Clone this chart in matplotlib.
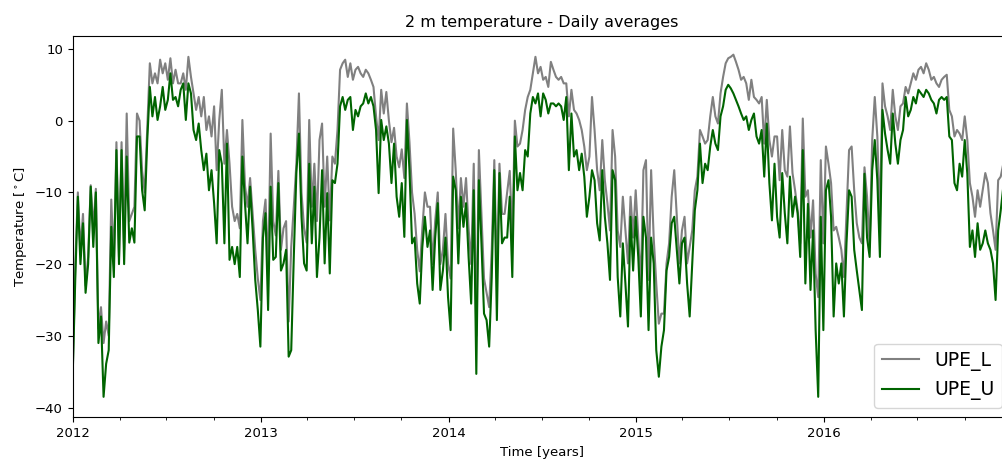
#!/usr/bin/env python3
import pandas as pd
import matplotlib
matplotlib.use('Agg')
import matplotlib.pyplot as plt
import matplotlib.dates as mdates

# 2 m temperature, values read every 5 days from 2012-01-01
start_date = '2012-01-01'
step = '5D'

upe_u = [
    # 2012
    -35.3, -22, -10.6, -20, -14.3, -24, -20, -9.2, -17.6, -10, -31, -27.3, -38.5, -33.9, -32, -14.8,
    -21.8, -4.1, -20, -4.1, -20, -5, -17, -15, -17, -2.2, -2.2, -9.7, -12.5, -2.7, 4.7, 0.6,
    3.3, 0.1, 2, 4.7, 1.5, 2.9, 6.6, 2.9, 3.3, 2, 4.3, 5.2, 0.1, 5.2, 3.8, -1.3,
    -2.7, -0.4, -4.1, -6.9, -4.6, -9.7, -6.9, -11.5, -17.1, -4.1, -6, -17.1, -3.2, -19.4,
    # 2012-11 .. 2013-08
    -17.6, -20, -17.6, -21.8, -5, -11.5, -17.1, -9.2, -15.3, -22.2, -26.4, -31.5, -16.3, -12.9, -26.4, -9.2,
    -19.4, -19, -8.7, -20.9, -19.9, -18, -32.9, -32, -19, -7.3, -1.8, -13.4, -19.9, -20.9, -6, -17.1,
    -9.2, -21.8, -16.3, -6.9, -19.9, -10.1, -21.3, -8.3, -8.7, -6, 2, 3.3, 1.5, 2.9, 3.3, -1.3,
    1.5, 0.6, 2, 2.4, 3.8, 2.4, 3.3, 2, -1.3, -10.1,
    # 2013-08 .. 2014-07
    0.1, -2.7, -0.8, -3.2, -8.7, -3.2, -10.6, -13.4, -8.7, -16.2, 0.1, -6.9, -17.1, -16.3, -22.7, -25.5,
    -17.6, -13.4, -17.6, -15.3, -23.6, -16.3, -11.5, -23.6, -20.9, -16.3, -24.6, -29.2, -7.8, -9.7, -19.9, -10.6,
    -14.8, -11.5, -19, -25.5, -9.7, -35.3, -8.3, -17.1, -26.9, -27.8, -31.5, -21.8, -6.9, -27.8, -7.3, -17.1,
    -16.3, -16.3, -10.6, -21.8, -2.2, -9.7, -7.3, -9.7, -4.1, -5, 1, 3.3, 2.4, 3.8, 0.6, 3.8,
    2.9, 1,
    # 2014-07 .. 2015-05
    2.4, 2.4, 2, 2.4, 2, 0.1, 3.3, -6.9, 1, -5, -4.1, -6.9, -4.6, -7.8, -13.4, -10.6,
    -6.9, -8.3, -14.3, -16.7, -6.9, -13.4, -17.1, -22.2, -6.9, -8.3, -21.8, -27.3, -17.1, -22.7, -28.7, -13.4,
    -20.9, -13.4, -19, -27.3, -13.4, -16.3, -29.2, -16.3, -19.9, -32, -35.7, -31.5, -29.2, -20.9, -19, -14.3,
    -13.4, -18, -22.7, -17.1, -16.3, -22.7, -27.3, -19.9, -12.5, -9.7, -3.2, -8.7, -6, -6.9,
    # 2015-05 .. 2016-03
    -3.6, -1.3, -3.2, -4.1, 0.6, 2, 4.3, 5, 4.5, 3.8, 2.9, 2, 1, 0.1, 0.6, -1.3,
    0.1, 1, -2.2, -3.2, -1.3, -7.8, -0.4, -8.7, -13.9, -6, -13.4, -16.3, -7.3, -12.9, -17.1, -7.8,
    -13.4, -10.6, -12.9, -19, -4.1, -22.7, -11.6, -23.6, -15.3, -29.2, -38.5, -13.4, -29.2, -9.7, -8.3, -13.4,
    -27.3, -19.9, -22.7, -19.9, -27.3, -17.1, -9.7, -10.6, -18, -20.9, -23.6, -26.4, -7.4, -16.3, -19,
    # 2016-04 .. 2016-12
    -6.9, -2.7, -8.3, -19, 1.5, -1.8, -4.1, -6, 1, -3.2, -6, -2.7, -1.3, 3.3, 0.6, 1.5,
    3.3, 2.4, 4.3, 3.8, 3.3, 4.3, 3.8, 2.9, 2.4, 1, 2.9, 3.3, 2.9, 3.3, -2.2, -2.7,
    -8.7, -9.7, -6, -7.8, -2.7, -7.4, -17.6, -15.3, -19, -14.3, -18, -17.1, -15.3, -17.1, -18, -19.9,
    -25, -15.3, -12.5, -9.2, -15.3, -18, -14,
]

upe_l = [
    # 2012
    -35, -20, -10, -18, -13, -23, -19, -9, -15, -9.5, -29, -26, -31, -28, -30, -11,
    -20, -3, -19, -3, -18, 1, -14, -13, -12, 1, 0, -7, -10, -1, 8, 5.2,
    6.6, 5.2, 8.5, 6.6, 8, 5.7, 8.7, 5.2, 7.1, 5.2, 5.2, 6.6, 4.3, 8.9, 6.1, 3.8,
    1.5, 3.3, 0.6, 3.3, -1.3, 0.6, -2.2, 2, -6.9, 0.1, 4.3, -6, -1.3, -6,
    # 2012-11 .. 2013-08
    -12, -14, -13, -15, 0.1, -9, -12, -8, -13, -18, -22, -25, -14, -11, -21, -1.8,
    -14, -16, -7, -18, -15, -14, -28, -17.6, -12, -6, 3.8, -10, -15, -17, 0.1, -12,
    -6, -14, -2.7, -0.4, -12, -5, -13.9, -5, -6, -1.3, 7.1, 8, 8.5, 6.1, 8, 5.7,
    7.1, 7.5, 6.6, 6.1, 7.1, 6.6, 5.7, 4.7, 0.6, -2.7,
    # 2013-08 .. 2014-07
    4.3, 1, 4, 0, -3, -1, -5, -6.5, -4, -8, 2.4, -3, -10, -13, -18, -21,
    -15, -10, -12, -12, -20, -14, -10, -20, -18, -13, -20, -22, -1.1, -7, -15, -8,
    -12, -8, -15, -20, -6, -30, -4.1, -13, -22, -24, -26, -18, -5.5, -22, -6, -13,
    -13, -10, -7, -16, 0, -3.6, -3.2, -1.3, 1.5, 3.3, 4.3, 6.6, 8.9, 6.6, 7.5, 5.7,
    6.1, 4.7,
    # 2014-07 .. 2015-05
    8.2, 7.1, 6.1, 5.7, 6.1, 5.2, 5.2, 0.6, 4.3, 1.5, 1, 0.1, -1.3, -3.6, -6.9, -5,
    3.3, -1.3, -6.9, -9.7, -2.7, -8.3, -11.5, -15.3, -1.3, -5, -15.3, -17.6, -10.6, -15.3, -19.9, -10.6,
    -16.3, -9.7, -16.3, -22.7, -6.9, -5.5, -22.2, -6.9, -16.3, -22.7, -28.3, -26.9, -26.9, -19.9, -17.1, -10.6,
    -6.9, -13.4, -19.9, -15.3, -13.4, -19.9, -17.6, -15.3, -9.7, -7.8, -1.3, -2.2, -3.2, -2.7,
    # 2015-05 .. 2016-03
    0.6, 3.3, 0.6, -0.4, 3.8, 6.1, 8, 8.7, 8.9, 9.2, 8.2, 7.1, 5.7, 6.1, 5.2, 2.9,
    5.7, 3.3, 2.9, 2.4, 3.3, -3.2, 2.9, -2.7, -5, -2.2, -2.2, -8.3, -1.3, -6.9, -7.8, -0.8,
    -7.3, -9.7, -12.5, -17.1, 0.3, -10.6, -9.7, -16.3, -11.1, -21.3, -24.6, -5.5, -17.1, -3.6, -6, -8.7,
    -15.3, -14.8, -16.3, -18, -21.8, -12.9, -4.1, -3.6, -9.7, -14.3, -16.3, -17.1, -6.5, -10.6, -17.6,
    # 2016-04 .. 2016-12
    -2.7, 3.3, -2.2, -14, 5.2, 2, 0.6, -1.3, 4.3, 0.6, -1.3, 2, 2.4, 4.7, 3.8, 5.2,
    6.6, 5.7, 7.1, 7.5, 6.6, 8, 7.1, 5.7, 6.1, 5.2, 4.7, 5.7, 6.1, 6.4, 1.5, 0.6,
    -2.2, -1.3, -1.8, -2.7, 0.6, -2.7, -8.7, -10.6, -13.4, -9.7, -12, -9.7, -7.3, -8.7, -12.9, -15.3,
    -18, -8.3, -7.8, -6, -10, -14, -10,
]


def plot_graph(df, graph_name):
    fig = plt.figure(figsize=(10.03, 4.62), dpi=100)
    ax = fig.add_axes([0.0725, 0.0968, 0.936, 0.826])

    ax.plot(df.index, df['UPE_L'], color='gray', lw=1.5, label='UPE_L')
    ax.plot(df.index, df['UPE_U'], color='darkgreen', lw=1.5, label='UPE_U')

    ax.set_xlim(pd.Timestamp('2012-01-01'), pd.Timestamp('2016-12-31'))
    ax.set_ylim(-41.35, 11.85)
    ax.set_yticks([-40, -30, -20, -10, 0, 10])

    # yearly labels, quarterly minor ticks
    ax.xaxis.set_major_locator(mdates.YearLocator())
    ax.xaxis.set_major_formatter(mdates.DateFormatter('%Y'))
    ax.xaxis.set_minor_locator(mdates.MonthLocator(bymonth=[4, 7, 10]))
    ax.tick_params(labelsize=9.5)

    ax.set_title(graph_name, fontsize=11.5)
    ax.set_xlabel('Time [years]', fontsize=9.5)
    ax.set_ylabel(r'Temperature [$^\circ$C]', fontsize=9.5)
    ax.legend(loc='lower right', fontsize=13.5)

    fig.savefig('out.png', dpi=100)
    plt.close(fig)


if __name__ == '__main__':
    dates = pd.date_range(start_date, periods=len(upe_u), freq=step)
    df = pd.DataFrame({'UPE_L': upe_l, 'UPE_U': upe_u}, index=dates)
    plot_graph(df, '2 m temperature - Daily averages')
